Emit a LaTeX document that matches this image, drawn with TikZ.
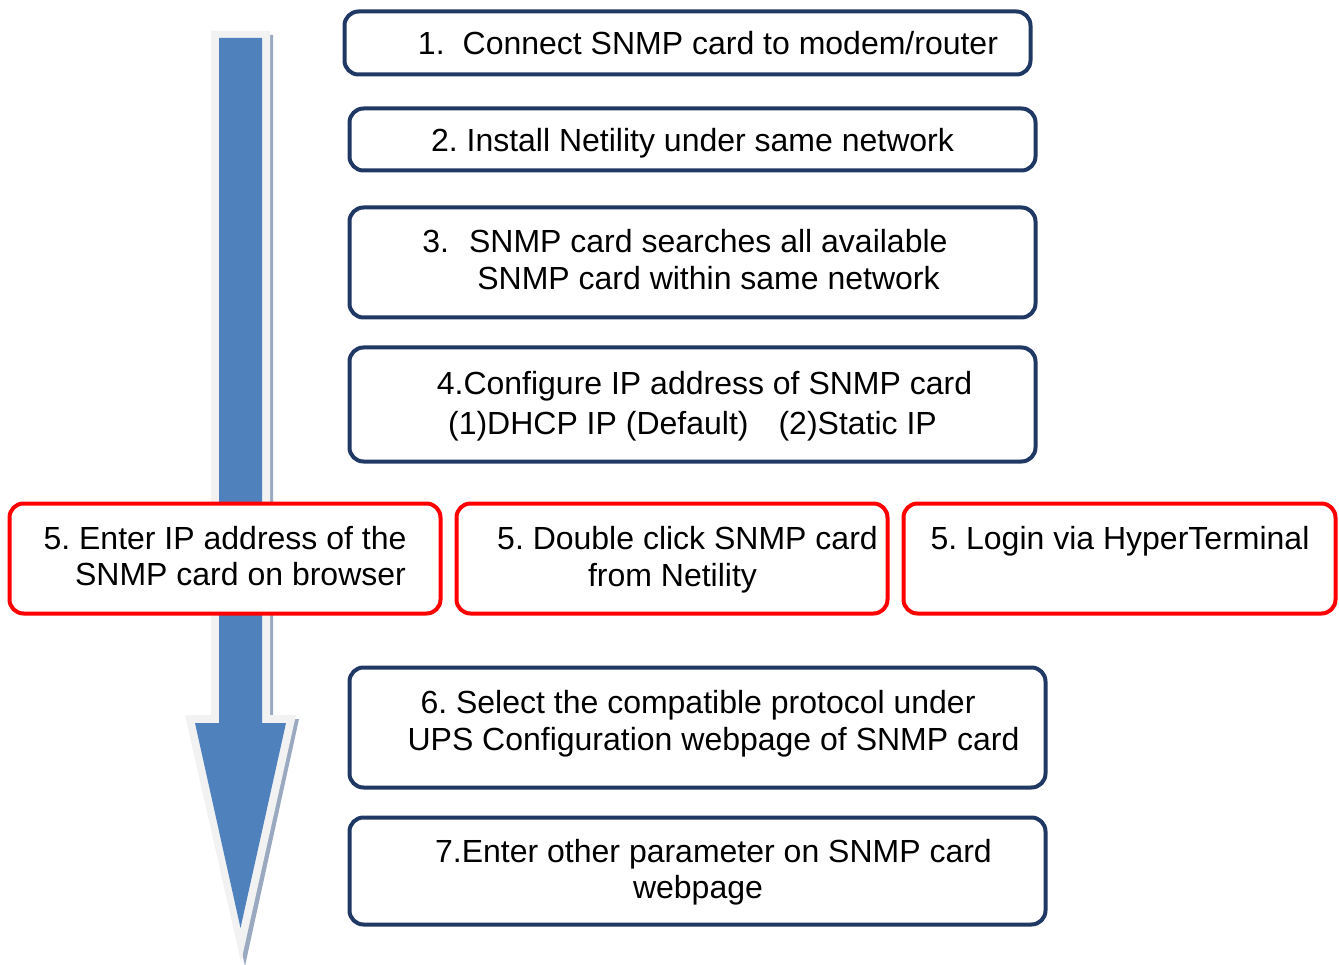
\documentclass[tikz,border=0pt]{standalone}
\usepackage{fontspec}
\setmainfont{Liberation Sans}
\frenchspacing
\definecolor{navy}{HTML}{1F3864}
\definecolor{arrowblue}{HTML}{4F81BD}
\definecolor{arrowrim}{HTML}{F2F2F2}
\definecolor{arrowshadow}{HTML}{9AA9BF}
\begin{document}
\begin{tikzpicture}[x=1pt,y=-1pt,
  box/.style={rectangle, rounded corners=14pt, line width=4pt, fill=white, inner sep=0pt},
  navybox/.style={box, draw=navy},
  redbox/.style={box, draw=red},
  txt/.style={anchor=base, inner sep=0pt, font=\fontsize{32}{38}\selectfont}]
\useasboundingbox (0,0) rectangle (1339,965);
% arrow
\fill[arrowshadow] (214,35) -- (273,35) -- (273,719) -- (299,719) -- (245,966) -- (188,719) -- (214,719) -- cycle;
\fill[arrowrim] (211,31) -- (270,31) -- (270,715) -- (296,715) -- (241,962) -- (185,715) -- (211,715) -- cycle;
\fill[arrowblue] (219,38) -- (262,38) -- (262,723) -- (286,723) -- (240.5,928) -- (195,723) -- (219,723) -- cycle;
% boxes
\node[navybox, minimum width=686pt, minimum height=63pt] (b1) at (687.5,43) {};
\node[navybox, minimum width=686pt, minimum height=62pt] (b2) at (692.5,139.5) {};
\node[navybox, minimum width=686pt, minimum height=110pt] (b3) at (692.5,262.5) {};
\node[navybox, minimum width=686pt, minimum height=114pt] (b4) at (692.5,404.5) {};
\node[redbox, minimum width=431pt, minimum height=110pt] (r1) at (225,558.5) {};
\node[redbox, minimum width=431pt, minimum height=110pt] (r2) at (672,558.5) {};
\node[redbox, minimum width=432pt, minimum height=110pt] (r3) at (1119.5,558.5) {};
\node[navybox, minimum width=696pt, minimum height=120pt] (b6) at (697.5,727.5) {};
\node[navybox, minimum width=696pt, minimum height=107pt] (b7) at (697.5,871) {};
% texts
\node[txt] (t1) at (708,55) {1.\hspace{18pt}Connect SNMP card to modem/router};
\node[txt] (t2) at (692.5,152) {2. Install Netility under same network};
\node[txt] (t3a) at (685,253) {3.\hspace{20pt}SNMP card searches all available};
\node[txt] (t3b) at (708.5,290) {SNMP card within same network};
\node[txt] (t4a) at (704.5,395) {4.Configure IP address of SNMP card};
\node[txt] (t4b) at (692.5,435) {(1)DHCP IP (Default)\hspace{30pt}(2)Static IP};
\node[txt] (t5a) at (225,549) {5. Enter IP address of the};
\node[txt] (t5b) at (240.5,585) {SNMP card on browser};
\node[txt] (t5c) at (687.5,549) {5. Double click SNMP card};
\node[txt] (t5d) at (672.5,586) {from Netility};
\node[txt] (t5e) at (1120,549) {5. Login via HyperTerminal};
\node[txt] (t6a) at (698,713) {6. Select the compatible protocol under};
\node[txt] (t6b) at (713.5,750) {UPS Configuration webpage of SNMP card};
\node[txt] (t7a) at (713.5,862) {7.Enter other parameter on SNMP card};
\node[txt] (t7b) at (698,898) {webpage};
\end{tikzpicture}
\end{document}
